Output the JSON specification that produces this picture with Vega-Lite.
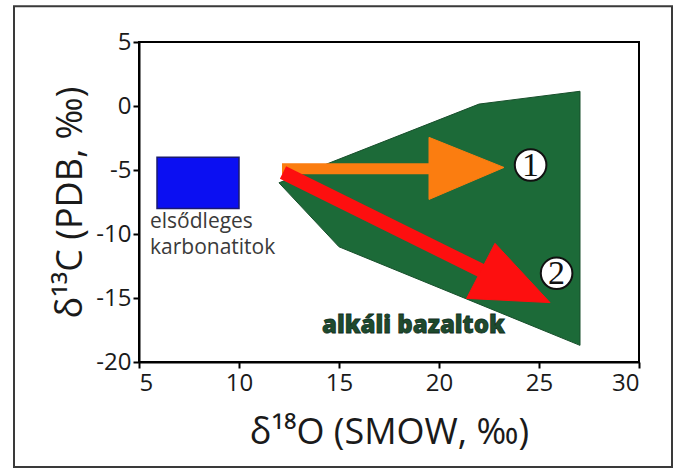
{
  "$schema": "https://vega.github.io/schema/vega-lite/v6.json",
  "autosize": "none",
  "width": 500,
  "height": 320,
  "padding": {"left": 139, "top": 42, "right": 41, "bottom": 106},
  "background": "white",
  "config": {
    "view": {"stroke": "black", "strokeWidth": 2},
    "font": "Open Sans",
    "axis": {
      "grid": false,
      "domainColor": "black",
      "domainWidth": 2,
      "tickColor": "black",
      "tickWidth": 2,
      "tickSize": 6,
      "labelFont": "Open Sans",
      "labelFontSize": 24,
      "labelColor": "#1a1a1a",
      "labelExpr": "replace(datum.label, '−', '-')",
      "titleFont": "Open Sans",
      "titleFontSize": 36,
      "titleFontWeight": "normal",
      "titleColor": "#1a1a1a"
    }
  },
  "datasets": {
    "polys": [
      {"shape": "basalt", "i": 1, "x": 12.0, "y": -6.0},
      {"shape": "basalt", "i": 2, "x": 22.0, "y": 0.15},
      {"shape": "basalt", "i": 3, "x": 27.05, "y": 1.15},
      {"shape": "basalt", "i": 4, "x": 27.05, "y": -18.7},
      {"shape": "basalt", "i": 5, "x": 15.0, "y": -11.0},
      {"shape": "basalt", "i": 6, "x": 12.0, "y": -6.0},
      {"shape": "head1", "i": 1, "x": 19.5, "y": -2.45},
      {"shape": "head1", "i": 2, "x": 23.25, "y": -4.8},
      {"shape": "head1", "i": 3, "x": 19.5, "y": -7.3},
      {"shape": "head1", "i": 4, "x": 19.5, "y": -2.45},
      {"shape": "head2", "i": 1, "x": 22.8, "y": -10.73},
      {"shape": "head2", "i": 2, "x": 25.55, "y": -15.36},
      {"shape": "head2", "i": 3, "x": 21.38, "y": -15.03},
      {"shape": "head2", "i": 4, "x": 22.8, "y": -10.73}
    ],
    "shafts": [
      {"arrow": "1", "x": 12.15, "y": -4.9, "x2": 19.8, "y2": -4.9},
      {"arrow": "2", "x": 12.2, "y": -5.2, "x2": 22.3, "y2": -13.0}
    ],
    "boxes": [
      {"name": "elsődleges karbonatitok", "x": 5.9, "x2": 10.0, "y": -4.0, "y2": -8.0}
    ],
    "frame": [
      {"x": -1.25, "x2": 31.65, "y": 7.8, "y2": -28.2}
    ],
    "circles": [
      {"label": "1", "x": 24.58, "y": -4.61},
      {"label": "2", "x": 25.88, "y": -13.07}
    ],
    "notes": [
      {"text": "elsődleges\nkarbonatitok", "x": 5.55, "y": -9.5}
    ],
    "fields": [
      {"text": "alkáli bazaltok", "x": 18.72, "y": -17.76}
    ]
  },
  "encoding": {
    "x": {
      "field": "x", "type": "quantitative",
      "scale": {"domain": [5, 30], "nice": false, "zero": false},
      "axis": {"values": [5, 10, 15, 20, 25, 30], "title": "δ¹⁸O (SMOW, ‰)", "titlePadding": 20, "labelPadding": 3}
    },
    "y": {
      "field": "y", "type": "quantitative",
      "scale": {"domain": [-20, 5], "nice": false, "zero": false},
      "axis": {"values": [-20, -15, -10, -5, 0, 5], "title": "δ¹³C (PDB, ‰)", "titlePadding": 6, "labelPadding": 2}
    }
  },
  "layer": [
    {
      "data": {"name": "frame"},
      "mark": {"type": "rect", "fill": null, "stroke": "#3a3a3a", "strokeWidth": 2, "clip": false},
      "encoding": {"x2": {"field": "x2"}, "y2": {"field": "y2"}}
    },
    {
      "data": {"name": "polys"},
      "transform": [{"filter": "datum.shape === 'basalt'"}],
      "mark": {"type": "line", "fill": "#1c6a38", "stroke": "#174f2b", "strokeWidth": 1, "interpolate": "linear"},
      "encoding": {"order": {"field": "i", "type": "quantitative"}}
    },
    {
      "data": {"name": "boxes"},
      "mark": {"type": "rect", "fill": "#0b0ff2", "stroke": "#1a1a70", "strokeWidth": 1.5},
      "encoding": {"x2": {"field": "x2"}, "y2": {"field": "y2"}}
    },
    {
      "data": {"name": "shafts"},
      "transform": [{"filter": "datum.arrow === '1'"}],
      "mark": {"type": "rule", "stroke": "#fb7d10", "strokeWidth": 11, "strokeCap": "butt"},
      "encoding": {"x2": {"field": "x2"}, "y2": {"field": "y2"}}
    },
    {
      "data": {"name": "polys"},
      "transform": [{"filter": "datum.shape === 'head1'"}],
      "mark": {"type": "line", "fill": "#fb7d10", "stroke": "#fb7d10", "strokeWidth": 1},
      "encoding": {"order": {"field": "i", "type": "quantitative"}}
    },
    {
      "data": {"name": "shafts"},
      "transform": [{"filter": "datum.arrow === '2'"}],
      "mark": {"type": "rule", "stroke": "#fd0f0f", "strokeWidth": 14, "strokeCap": "butt"},
      "encoding": {"x2": {"field": "x2"}, "y2": {"field": "y2"}}
    },
    {
      "data": {"name": "polys"},
      "transform": [{"filter": "datum.shape === 'head2'"}],
      "mark": {"type": "line", "fill": "#fd0f0f", "stroke": "#fd0f0f", "strokeWidth": 1},
      "encoding": {"order": {"field": "i", "type": "quantitative"}}
    },
    {
      "data": {"name": "circles"},
      "mark": {"type": "point", "shape": "circle", "size": 1000, "filled": true, "fill": "white", "stroke": "#111111", "strokeWidth": 2, "opacity": 1},
      "encoding": {}
    },
    {
      "data": {"name": "circles"},
      "mark": {"type": "text", "font": "Liberation Serif", "fontSize": 34, "color": "#111111", "align": "center", "baseline": "middle", "dy": 1},
      "encoding": {"text": {"field": "label"}}
    },
    {
      "data": {"name": "notes"},
      "mark": {"type": "text", "font": "Open Sans", "fontSize": 21, "color": "#3a3a3a", "align": "left", "baseline": "alphabetic", "lineBreak": "\n", "lineHeight": 26},
      "encoding": {"text": {"field": "text"}}
    },
    {
      "data": {"name": "fields"},
      "mark": {"type": "text", "font": "Open Sans", "fontSize": 24, "fontWeight": 800, "color": "#1e4a2e", "stroke": "#10301c", "strokeWidth": 0.8, "align": "center", "baseline": "alphabetic"},
      "encoding": {"text": {"field": "text"}}
    }
  ]
}
